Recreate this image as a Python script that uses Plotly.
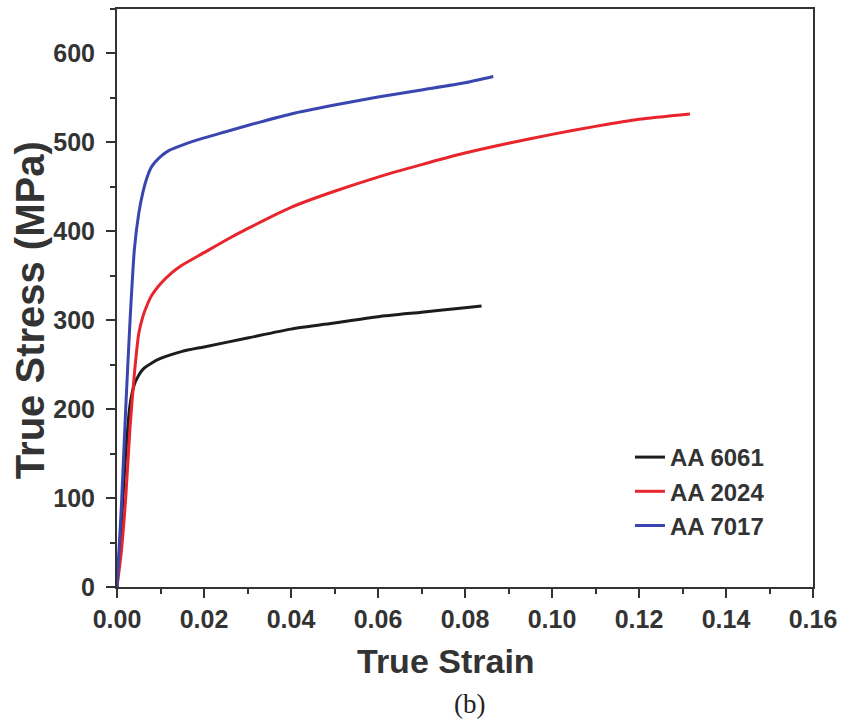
import plotly.graph_objects as go

# AA 6061
strain_6061 = [0, 0.001, 0.002, 0.003, 0.004, 0.005, 0.006, 0.008, 0.010, 0.015, 0.020,
               0.030, 0.040, 0.050, 0.060, 0.070, 0.080, 0.0838]
stress_6061 = [0, 70, 150, 205, 228, 238, 245, 252, 257, 265, 270,
               280, 290, 297, 304, 309, 314, 316]

# AA 2024
strain_2024 = [0, 0.001, 0.002, 0.003, 0.004, 0.005, 0.006, 0.007, 0.008, 0.010, 0.0125,
               0.015, 0.020, 0.025, 0.030, 0.040, 0.050, 0.060, 0.070, 0.080, 0.090,
               0.100, 0.110, 0.120, 0.1317]
stress_2024 = [0, 40, 100, 180, 240, 285, 305, 318, 328, 341, 353,
               362, 376, 390, 403, 427, 445, 461, 475, 488, 499,
               509, 518, 526, 532]

# AA 7017
strain_7017 = [0, 0.001, 0.002, 0.003, 0.004, 0.005, 0.006, 0.007, 0.008, 0.010, 0.012,
               0.015, 0.020, 0.025, 0.030, 0.040, 0.050, 0.060, 0.070, 0.080, 0.0865]
stress_7017 = [0, 90, 200, 300, 380, 420, 445, 462, 473, 484, 491,
               497, 505, 512, 519, 532, 542, 551, 559, 567, 574]

series_names = ["AA 6061", "AA 2024", "AA 7017"]
series_colors = ["#1c1c1c", "#e8242c", "#3a46b0"]

x_ticks = [0.00, 0.02, 0.04, 0.06, 0.08, 0.10, 0.12, 0.14, 0.16]
y_ticks = [0, 100, 200, 300, 400, 500, 600]

FONT = "Liberation Sans, Arial, sans-serif"
AX = "#333333"

fig = go.Figure()
for name, xs, ys, col in zip(series_names,
                             [strain_6061, strain_2024, strain_7017],
                             [stress_6061, stress_2024, stress_7017],
                             series_colors):
    fig.add_trace(go.Scatter(x=xs, y=ys, mode="lines", name=name,
                             line=dict(color=col, width=3, shape="spline", smoothing=0.6)))

fig.update_layout(
    width=843, height=719,
    paper_bgcolor="white", plot_bgcolor="white",
    margin=dict(l=117, r=30, t=9, b=132, autoexpand=False),
    showlegend=True,
    legend=dict(x=0.737, y=0.263, xanchor="left", yanchor="top",
                bgcolor="rgba(0,0,0,0)",
                font=dict(family=FONT, size=24, color=AX, weight="bold"),
                tracegroupgap=0),
    font=dict(family=FONT, color=AX),
)
fig.update_xaxes(
    range=[0, 0.16], tickvals=x_ticks, ticktext=[f"{v:.2f}" for v in x_ticks],
    showgrid=False, zeroline=False, automargin=False,
    showline=True, linecolor=AX, linewidth=2, mirror=True,
    ticks="outside", ticklen=9, tickwidth=2, tickcolor=AX,
    minor=dict(ticks="outside", ticklen=5, tickwidth=2, tickcolor=AX, dtick=0.01),
    tickfont=dict(family=FONT, size=25, color=AX, weight="bold"),
)
fig.update_yaxes(
    range=[0, 650], tickvals=y_ticks,
    showgrid=False, zeroline=False, automargin=False,
    showline=True, linecolor=AX, linewidth=2, mirror=True,
    ticks="outside", ticklen=9, tickwidth=2, tickcolor=AX,
    minor=dict(ticks="outside", ticklen=5, tickwidth=2, tickcolor=AX, dtick=50),
    tickfont=dict(family=FONT, size=25, color=AX, weight="bold"),
    ticklabelstandoff=6,
)
fig.add_annotation(text="True Strain", xref="paper", yref="paper", x=0.473, y=0,
                   yshift=-74, showarrow=False, xanchor="center", yanchor="middle",
                   font=dict(family=FONT, size=34, color=AX, weight="bold"))
fig.add_annotation(text="True Stress (MPa)", xref="paper", yref="paper", x=0, y=0.479,
                   xshift=-87, showarrow=False, xanchor="center", yanchor="middle",
                   textangle=-90,
                   font=dict(family=FONT, size=40, color=AX, weight="bold"))
fig.add_annotation(text="(b)", xref="paper", yref="paper", x=0.507, y=0,
                   yshift=-117, showarrow=False, xanchor="center", yanchor="middle",
                   font=dict(family="Liberation Serif, Times New Roman, serif", size=27, color="#222222"))
fig.write_html("out.html", config={"displayModeBar": False},
               post_script="document.body.style.margin='0';")
